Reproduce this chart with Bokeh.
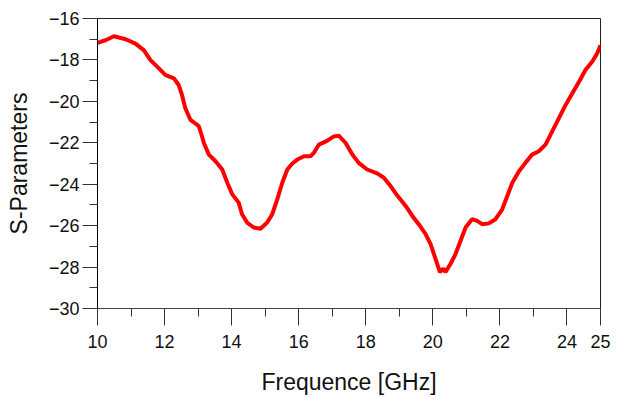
from bokeh.plotting import figure
from bokeh.models import Range1d, FixedTicker
from bokeh.embed import file_html
from bokeh.resources import INLINE

# Data (frequency in GHz, S-parameter in dB)
freq = [10.00, 10.04, 10.24, 10.49, 10.84, 11.13, 11.38, 11.58, 11.83, 12.03,
        12.28, 12.42, 12.52, 12.62, 12.77, 12.97, 13.02, 13.10, 13.17, 13.32,
        13.52, 13.72, 13.87, 14.02, 14.21, 14.31, 14.46, 14.66, 14.86, 15.06,
        15.21, 15.36, 15.51, 15.66, 15.81, 15.96, 16.16, 16.35, 16.45, 16.60,
        16.75, 16.90, 17.05, 17.20, 17.40, 17.60, 17.79, 18.04, 18.34, 18.54,
        18.74, 18.94, 19.19, 19.39, 19.58, 19.78, 19.93, 20.08, 20.21, 20.31,
        20.38, 20.53, 20.68, 20.83, 20.98, 21.17, 21.32, 21.47, 21.67, 21.87,
        22.07, 22.22, 22.37, 22.57, 22.76, 22.96, 23.16, 23.36, 23.56, 23.76,
        23.96, 24.16, 24.36, 24.55, 24.75, 24.90, 25.00]
s_param = [-17.20, -17.15, -17.05, -16.86, -17.00, -17.21, -17.53, -18.01, -18.41, -18.73,
           -18.89, -19.21, -19.69, -20.33, -20.89, -21.13, -21.20, -21.60, -22.00, -22.57,
           -22.89, -23.29, -23.93, -24.49, -24.89, -25.45, -25.85, -26.09, -26.15, -25.85,
           -25.45, -24.73, -23.93, -23.29, -23.00, -22.81, -22.65, -22.65, -22.49, -22.09,
           -21.98, -21.85, -21.69, -21.66, -22.01, -22.57, -22.97, -23.29, -23.48, -23.69,
           -24.09, -24.55, -25.05, -25.53, -25.93, -26.40, -26.88, -27.60, -28.24, -28.08,
           -28.24, -27.84, -27.36, -26.72, -26.08, -25.69, -25.77, -25.93, -25.89, -25.69,
           -25.21, -24.57, -23.93, -23.37, -22.97, -22.57, -22.41, -22.09, -21.45, -20.81,
           -20.17, -19.61, -19.05, -18.49, -18.09, -17.69, -17.29]

x_ticks = [10, 12, 14, 16, 18, 20, 22, 24, 25]
x_minor = [11, 13, 15, 17, 19, 21, 23]
y_ticks = [-30, -28, -26, -24, -22, -20, -18, -16]
y_minor = [-29, -27, -25, -23, -21, -19, -17]

FONT = "Liberation Sans"

p = figure(width=619, height=397, output_backend="svg", toolbar_location=None,
           x_range=Range1d(10, 25), y_range=Range1d(-30, -16),
           min_border_left=97, min_border_right=19, min_border_top=18,
           min_border_bottom=87)

p.line(freq, s_param, line_color="#ff0000", line_width=4)

p.xgrid.visible = False
p.ygrid.visible = False
p.outline_line_color = "#222222"
p.outline_line_width = 1
p.background_fill_color = "white"
p.border_fill_color = "white"

p.xaxis.ticker = FixedTicker(ticks=x_ticks, minor_ticks=x_minor)
p.yaxis.ticker = FixedTicker(ticks=y_ticks, minor_ticks=y_minor)

for ax in (p.xaxis[0], p.yaxis[0]):
    ax.major_tick_in = 0
    ax.minor_tick_in = 0
    ax.minor_tick_out = 8
    ax.major_label_text_font = FONT
    ax.major_label_text_font_size = "18px"
    ax.major_label_text_color = "#111111"
    ax.axis_label_text_font = FONT
    ax.axis_label_text_font_size = "23px"
    ax.axis_label_text_font_style = "normal"
    ax.axis_label_text_color = "#111111"

p.xaxis.major_tick_out = 17
p.xaxis.major_label_standoff = 9
p.xaxis.axis_line_color = "#444444"
p.xaxis.major_tick_line_color = "#333333"
p.xaxis.minor_tick_line_color = "#333333"
p.xaxis.axis_label = "Frequence [GHz]"
p.xaxis.axis_label_standoff = 18

p.yaxis.major_tick_out = 15
p.yaxis.major_label_standoff = 3
p.yaxis.axis_line_color = "black"
p.yaxis.major_tick_line_color = "#333333"
p.yaxis.minor_tick_line_color = "#333333"
p.yaxis.axis_label = "S-Parameters"
p.yaxis.axis_label_standoff = 14

open("out.html", "w").write(file_html(p, INLINE))
